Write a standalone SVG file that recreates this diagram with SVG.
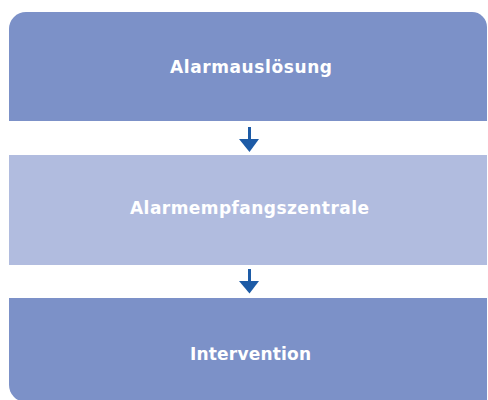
<svg xmlns="http://www.w3.org/2000/svg" width="488" height="400" viewBox="0 0 488 400">
  <style>
    .dark { fill: #7c91c8; }
    .light { fill: #b1bcdf; }
    .label { font-family: "DejaVu Sans", "Open Sans", sans-serif; font-weight: bold; font-size: 17px; fill: #ffffff; text-anchor: middle; }
    .stem { stroke: #1d5ba6; stroke-width: 3; fill: none; }
    .head { fill: #1d5ba6; }
  </style>
  <rect width="488" height="400" fill="#ffffff"/>
  <g id="node-alarmausloesung">
    <path class="dark" d="M9,29 A17,17 0 0 1 26,12 L472,12 A15,15 0 0 1 487,27 L487,121 L9,121 Z"/>
    <text class="label" x="251" y="72.5" textLength="162" lengthAdjust="spacing">Alarmauslösung</text>
  </g>
  <g id="node-alarmempfangszentrale">
    <rect class="light" x="9" y="155" width="478" height="110"/>
    <text class="label" x="249.5" y="213.5" textLength="239" lengthAdjust="spacing">Alarmempfangszentrale</text>
  </g>
  <g id="node-intervention">
    <path class="dark" d="M9,298 L487,298 L487,402 L26,402 A17,17 0 0 1 9,385 Z"/>
    <text class="label" x="250.5" y="360" textLength="121" lengthAdjust="spacing">Intervention</text>
  </g>
  <g id="connectors">
    <line class="stem" x1="249.5" y1="127" x2="249.5" y2="141"/>
    <polygon class="head" points="239,139 259,139 249.5,152"/>
    <line class="stem" x1="249.5" y1="269" x2="249.5" y2="283"/>
    <polygon class="head" points="239,281 259,281 249.5,293.5"/>
  </g>
</svg>
